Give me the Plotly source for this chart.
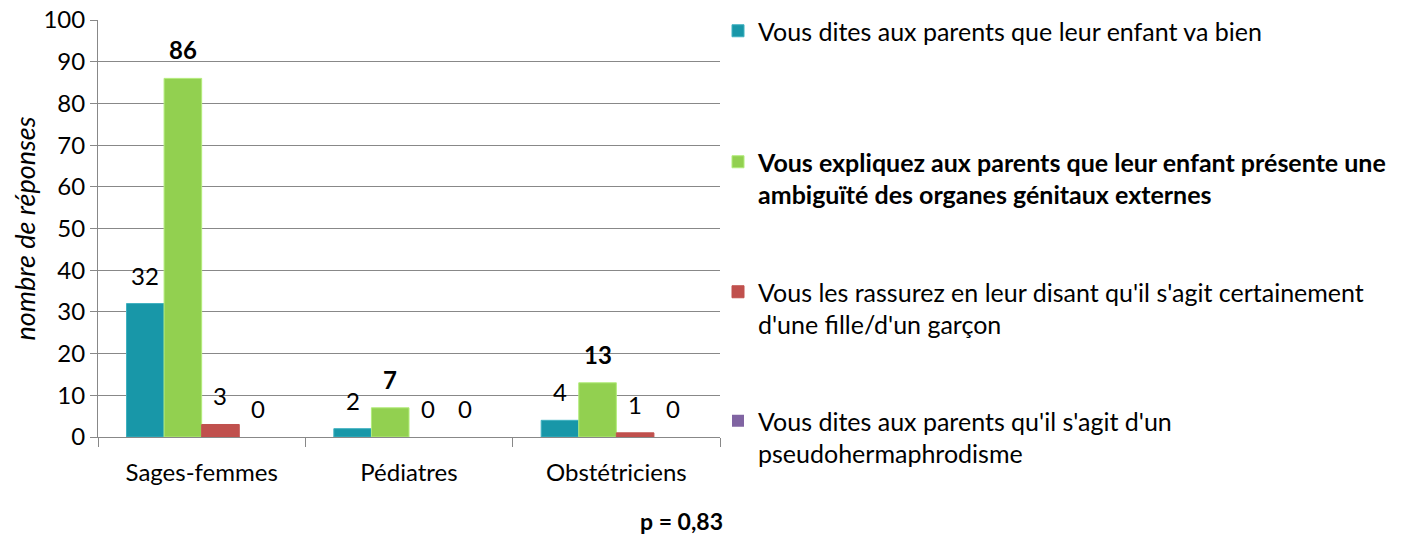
import plotly.graph_objects as go

categories = ["Sages-femmes", "Pédiatres", "Obstétriciens"]
series_names = [
    "Vous dites aux parents que leur enfant va bien",
    "<b>Vous expliquez aux parents que leur enfant présente une<br>ambiguïté des organes génitaux externes</b>",
    "Vous les rassurez en leur disant qu'il s'agit certainement<br>d'une fille/d'un garçon",
    "Vous dites aux parents qu'il s'agit d'un<br>pseudohermaphrodisme",
]
values_va_bien = [32, 2, 4]
values_ambiguite = [86, 7, 13]
values_rassurez = [3, 0, 1]
values_pseudo = [0, 0, 0]
y_ticks = [0, 10, 20, 30, 40, 50, 60, 70, 80, 90, 100]

series_values = [values_va_bien, values_ambiguite, values_rassurez, values_pseudo]
colors = ["#1897A8", "#92D050", "#C0504D", "#8064A2"]
edge = ["#3FB1C0", "#B2EC7A", "#C0504D", "#8064A2"]
bold_labels = [False, True, False, False]

FONT = "Lato"
OFF = 8  # page body margin
W, H = 1406 - OFF, 536 - OFF
# target pixel positions in the reference frame
L, R, T, B = 98 - OFF, 720 - OFF, 20 - OFF, 437 - OFF
BARGAP = 0.275

def cy(p):
    return (H - (p - OFF)) / H

def cx(p):
    return (p - OFF) / W

def px(p):
    return (p - OFF - L) / (R - L)

def py(p):
    return (B - (p - OFF)) / (B - T)

fig = go.Figure()
legend_tops = [3, 139, 269, 398]
for i, (name, vals) in enumerate(zip(series_names, series_values)):
    lg = "legend" if i == 0 else f"legend{i+1}"
    fig.add_trace(go.Bar(
        name=name, x=categories, y=vals,
        marker=dict(color=colors[i],
                    line=dict(color=edge[i], width=[1 if v > 0 else 0 for v in vals])),
        legend=lg, showlegend=True,
    ))

n = len(series_values)
bw = (1 - BARGAP) / n
annotations = []
for i, vals in enumerate(series_values):
    for j, v in enumerate(vals):
        txt = f"<b>{v}</b>" if bold_labels[i] else f"{v}"
        annotations.append(dict(
            x=j + (i - (n - 1) / 2) * bw, y=v, xref="x", yref="y",
            text=txt, showarrow=False, yanchor="bottom", yshift=12,
            font=dict(family=FONT, size=24, color="#000000"),
        ))
annotations.append(dict(
    x=px(681), y=py(521), xref="paper", yref="paper",
    xanchor="center", yanchor="middle",
    text="<b>p = 0,83</b>", showarrow=False,
    font=dict(family=FONT, size=23, color="#000000"),
))

layout_legends = {}
for i in range(n):
    key = "legend" if i == 0 else f"legend{i+1}"
    layout_legends[key] = dict(
        x=cx(718), y=cy(legend_tops[i]), xref="container", yref="container",
        xanchor="left", yanchor="top",
        bgcolor="rgba(0,0,0,0)", valign="top",
        font=dict(family=FONT, size=25, color="#000000"),
    )

fig.update_layout(
    width=W, height=H,
    margin=dict(l=L, r=W - R, t=T, b=H - B, pad=0, autoexpand=False),
    plot_bgcolor="white", paper_bgcolor="white",
    barmode="group", bargap=BARGAP, bargroupgap=0,
    font=dict(family=FONT, size=24, color="#000000"),
    annotations=annotations,
    xaxis=dict(
        type="category", tickson="boundaries", ticks="outside", ticklen=9,
        tickcolor="#888888", showline=True, linecolor="#888888", linewidth=1,
        tickfont=dict(family=FONT, size=24), ticklabelstandoff=14,
        showgrid=False, automargin=False, ticklabeloverflow="allow",
    ),
    yaxis=dict(
        range=[0, 100], tickvals=y_ticks, ticks="outside", ticklen=7,
        tickcolor="#888888", showline=True, linecolor="#888888", linewidth=1,
        gridcolor="#888888", gridwidth=1, zeroline=False, automargin=False,
        tickfont=dict(family=FONT, size=24), ticklabeloverflow="allow",
        title=dict(text="nombre de réponses", standoff=12,
                   font=dict(family=FONT, size=27, style="italic")),
    ),
    **layout_legends,
)

fig.write_html("out.html")
